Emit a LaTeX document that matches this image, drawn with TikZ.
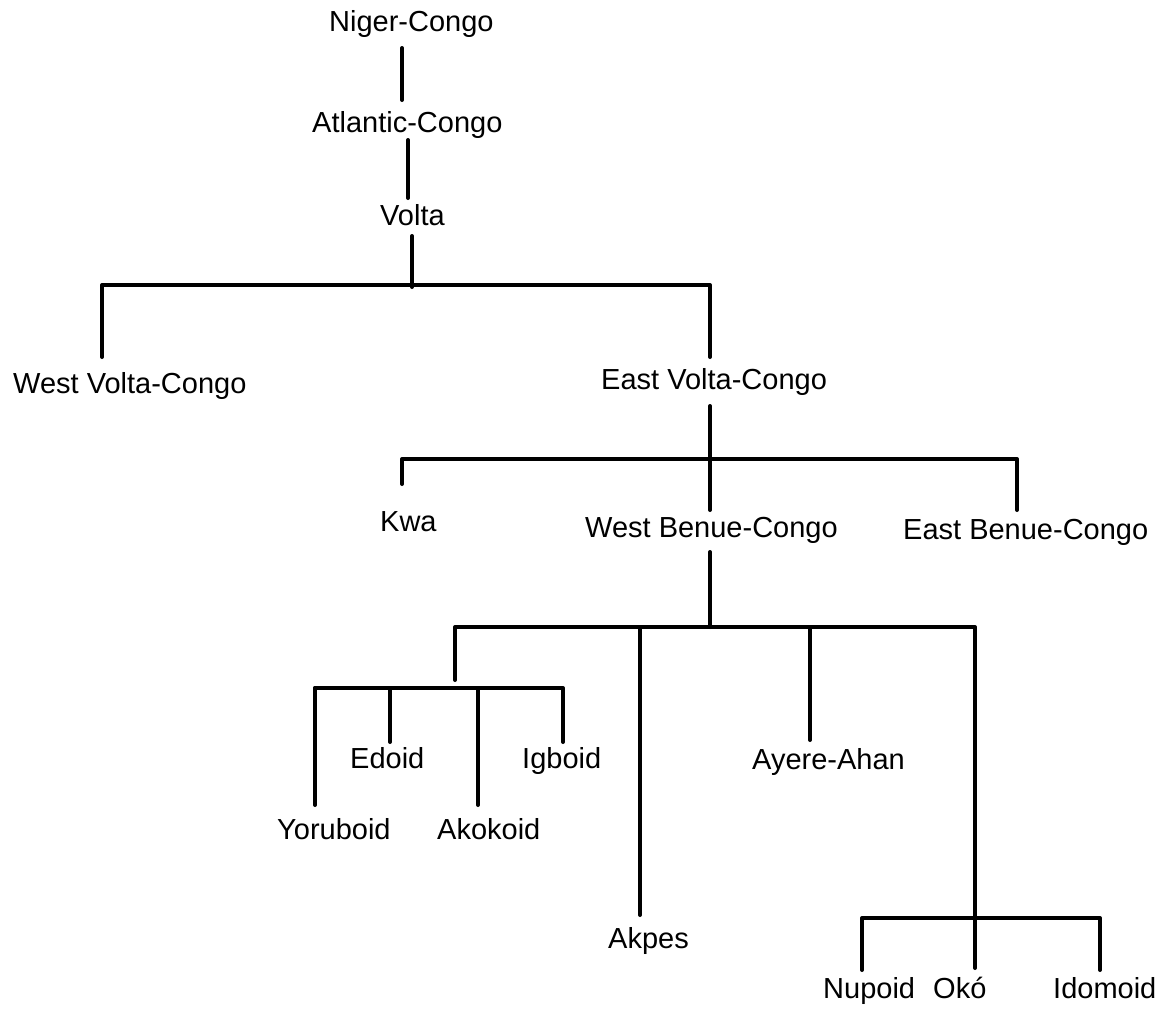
\documentclass[tikz,border=0pt]{standalone}
\usepackage{fontspec}
\setmainfont{Liberation Sans}
\begin{document}
\begin{tikzpicture}[x=1pt,y=-1pt,
  lang/.style={inner sep=0pt, anchor=base west, font=\fontsize{29}{35}\selectfont},
  branch/.style={line width=4pt, line cap=round, line join=round}]
\useasboundingbox (0,0) rectangle (1167,1010);

% language labels (placed by baseline and left edge)
\node[lang] (nc)   at (329,31)  {Niger-Congo};
\node[lang] (ac)   at (312,132) {Atlantic-Congo};
\node[lang] (vo)   at (380,225) {Volta};
\node[lang] (wvc)  at (13,393)  {West Volta-Congo};
\node[lang] (evc)  at (601,389) {East Volta-Congo};
\node[lang] (kwa)  at (380,531) {Kwa};
\node[lang] (wbc)  at (585,537) {West Benue-Congo};
\node[lang] (ebc)  at (903,539) {East Benue-Congo};
\node[lang] (edo)  at (350,768) {Edoid};
\node[lang] (igb)  at (522,768) {Igboid};
\node[lang] (aya)  at (752,769) {Ayere-Ahan};
\node[lang] (yor)  at (277,839) {Yoruboid};
\node[lang] (ako)  at (437,839) {Akokoid};
\node[lang] (akp)  at (608,948) {Akpes};
\node[lang] (nup)  at (823,998) {Nupoid};
\node[lang] (oko)  at (933,998) {Okó};
\node[lang] (ido)  at (1053,998) {Idomoid};

% branch points and line ends
\coordinate (nc-b) at (402,48);  \coordinate (ac-t) at (402,100);
\coordinate (ac-b) at (408,140); \coordinate (vo-t) at (408,198);
\coordinate (vo-b) at (412,236); \coordinate (vo-j) at (412,287);
\coordinate (vbarL) at (102,285); \coordinate (vbarR) at (710,285);
\coordinate (wvc-t) at (102,357); \coordinate (evc-t) at (710,357);
\coordinate (evc-b) at (710,406);
\coordinate (ebarL) at (402,459); \coordinate (ebarR) at (1017,459);
\coordinate (kwa-t) at (402,484); \coordinate (wbc-t) at (710,510);
\coordinate (ebc-t) at (1017,510);
\coordinate (wbc-b) at (710,552);
\coordinate (wbarL) at (455,627); \coordinate (wbarR) at (975,627);
\coordinate (sub-t) at (455,680);
\coordinate (sbarL) at (315,688); \coordinate (sbarR) at (563,688);
\coordinate (yor-t) at (315,805); \coordinate (edo-t) at (390,742);
\coordinate (ako-t) at (478,805); \coordinate (igb-t) at (563,742);
\coordinate (akp-t) at (640,915); \coordinate (aya-t) at (810,740);
\coordinate (nbarL) at (862,918); \coordinate (nbarR) at (1100,918);
\coordinate (oko-t) at (975,968);
\coordinate (nup-t) at (862,970); \coordinate (ido-t) at (1100,970);

% connectors
\draw[branch] (nc-b) -- (ac-t);
\draw[branch] (ac-b) -- (vo-t);
\draw[branch] (vo-b) -- (vo-j);
\draw[branch] (wvc-t) -- (vbarL) -- (vbarR) -- (evc-t);
\draw[branch] (evc-b) -- (wbc-t);
\draw[branch] (kwa-t) -- (ebarL) -- (ebarR) -- (ebc-t);
\draw[branch] (wbc-b) -- (wbc-b |- wbarL);
\draw[branch] (sub-t) -- (wbarL) -- (wbarR) -- (oko-t);
\draw[branch] (akp-t |- wbarL) -- (akp-t);
\draw[branch] (aya-t |- wbarL) -- (aya-t);
\draw[branch] (sub-t |- sbarL) -- (sbarL);
\draw[branch] (yor-t) -- (sbarL) -- (sbarR) -- (igb-t);
\draw[branch] (edo-t |- sbarL) -- (edo-t);
\draw[branch] (ako-t |- sbarL) -- (ako-t);
\draw[branch] (nup-t) -- (nbarL) -- (nbarR) -- (ido-t);
\end{tikzpicture}
\end{document}
